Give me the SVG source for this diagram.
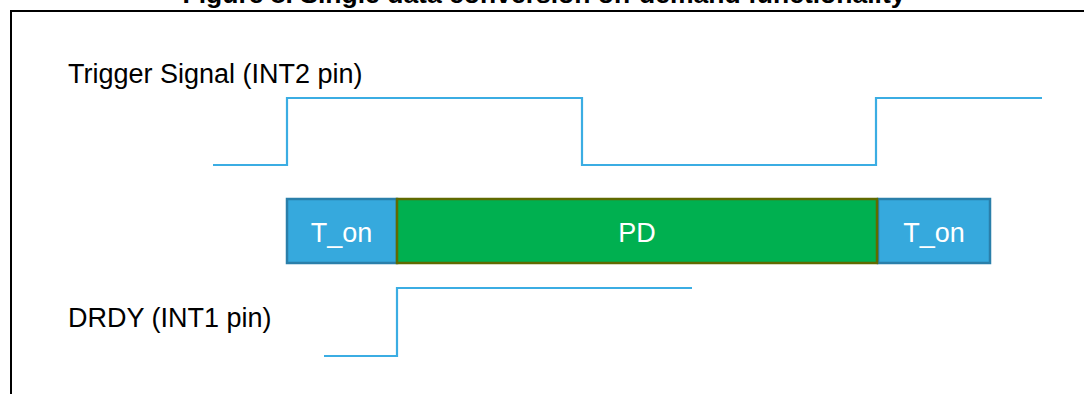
<svg xmlns="http://www.w3.org/2000/svg" width="1084" height="394" viewBox="0 0 1084 394">
<style>
.lbl{font-family:"Liberation Sans",Arial,sans-serif;font-size:27px;fill:#000}
.box{font-family:"Liberation Sans",Arial,sans-serif;font-size:27px;fill:#fff;text-anchor:middle}
.ton{fill:#36A9DD;stroke:#2A7FAA;stroke-width:2.5}
.pd{fill:#00B050;stroke:#5F6A00;stroke-width:2.5}
.sig{fill:none;stroke:#3BADE3;stroke-width:2.2;stroke-linejoin:miter}
</style>
<rect width="1084" height="394" fill="#fff"/>
<text x="544" y="3" text-anchor="middle" style="font-family:'Liberation Sans',Arial,sans-serif;font-size:26.5px;font-weight:bold">Figure 8. Single data conversion on-demand functionality</text>
<rect x="11" y="11" width="1100" height="400" fill="none" stroke="#000" stroke-width="2"/>
<g id="labels">
<text class="lbl" x="68" y="83">Trigger Signal (INT2 pin)</text>
<text class="lbl" x="68" y="327">DRDY (INT1 pin)</text>
</g>
<g id="connectors">
<polyline class="sig" points="213,165 287,165 287,98 582,98 582,165 876,165 876,98 1042,98"/>
<polyline class="sig" points="324,356 397,356 397,288 692,288"/>
</g>
<g id="ton1">
<rect class="ton" x="287" y="199" width="110" height="64"/>
<text class="box" x="341.5" y="242">T_on</text>
</g>
<g id="ton2">
<rect class="ton" x="878" y="199" width="112" height="64"/>
<text class="box" x="934" y="242">T_on</text>
</g>
<g id="pd">
<rect class="pd" x="397" y="199" width="480" height="64"/>
<text class="box" x="637" y="242">PD</text>
</g>
</svg>
